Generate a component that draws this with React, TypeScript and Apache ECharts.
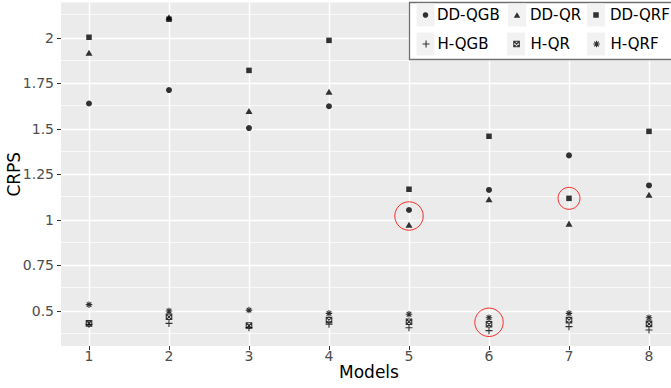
import React, { useEffect, useRef } from "react";
import * as echarts from "echarts";

// ---- data ----
const models = [1, 2, 3, 4, 5, 6, 7, 8];
const ddQGB = [1.64, 1.714, 1.505, 1.625, 1.055, 1.165, 1.355, 1.19];
const ddQR = [1.919, 2.114, 1.599, 1.705, 0.974, 1.114, 0.98, 1.139];
const ddQRF = [2.004, 2.103, 1.822, 1.987, 1.169, 1.46, 1.119, 1.487];
const hQGB = [0.427, 0.432, 0.408, 0.427, 0.408, 0.392, 0.414, 0.396];
const hQR = [0.432, 0.468, 0.42, 0.45, 0.441, 0.427, 0.45, 0.429];
const hQRF = [0.535, 0.5, 0.505, 0.487, 0.482, 0.463, 0.487, 0.463];

const yTicks = [0.5, 0.75, 1, 1.25, 1.5, 1.75, 2];
const yMinorTicks = [0.375, 0.625, 0.875, 1.125, 1.375, 1.625, 1.875, 2.125];
const xTicks = [1, 2, 3, 4, 5, 6, 7, 8];

const highlightX = [5, 6, 7];
const highlightY = [1.022, 0.438, 1.119];

const FONT = "DejaVu Sans";

const SYM = {
  circle: "circle",
  triangle: "path://M5,0L10,8.66L0,8.66Z",
  square: "path://M0,0L10,0L10,10L0,10Z",
  plus: "path://M5,0L5,10M0,5L10,5",
  sqcross: "path://M0,0L10,0L10,10L0,10ZM0,0L10,10M10,0L0,10",
  asterisk: "path://M5,0L5,10M0,5L10,5M1.46,1.46L8.54,8.54M1.46,8.54L8.54,1.46",
};

type SeriesSpec = {
  name: string;
  values: number[];
  symbol: string;
  size: number;
  stroke: boolean;
  legend: { cx: number; cy: number; text: number; w: number };
};

const seriesSpecs: SeriesSpec[] = [
  { name: "DD-QGB", values: ddQGB, symbol: SYM.circle, size: 6, stroke: false, legend: { cx: 425.5, cy: 15, text: 437, w: 5.5 } },
  { name: "DD-QR", values: ddQR, symbol: SYM.triangle, size: 7, stroke: false, legend: { cx: 517, cy: 15, text: 530, w: 6.5 } },
  { name: "DD-QRF", values: ddQRF, symbol: SYM.square, size: 5.5, stroke: false, legend: { cx: 596, cy: 15, text: 610, w: 5.5 } },
  { name: "H-QGB", values: hQGB, symbol: SYM.plus, size: 7, stroke: true, legend: { cx: 425.5, cy: 44, text: 437, w: 7 } },
  { name: "H-QR", values: hQR, symbol: SYM.sqcross, size: 5.5, stroke: true, legend: { cx: 516, cy: 44, text: 530, w: 5.5 } },
  { name: "H-QRF", values: hQRF, symbol: SYM.asterisk, size: 6.5, stroke: true, legend: { cx: 596, cy: 44, text: 610, w: 6.5 } },
];

export default function App() {
  const ref = useRef<HTMLDivElement>(null);

  useEffect(() => {
    if (!ref.current) return;
    const chart = echarts.init(ref.current, undefined, { renderer: "svg" });

    const gridLineData: any[] = [
      ...yMinorTicks.map((v) => ({ yAxis: v, lineStyle: { color: "#FFFFFF", width: 0.7, type: "solid" } })),
      ...yTicks.map((v) => ({ yAxis: v, lineStyle: { color: "#FFFFFF", width: 1.4, type: "solid" } })),
      ...xTicks.map((v) => ({ xAxis: v, lineStyle: { color: "#FFFFFF", width: 1.4, type: "solid" } })),
    ];

    const scatterSeries = seriesSpecs.map((s) => ({
      type: "scatter",
      name: s.name,
      z: 2,
      symbol: s.symbol,
      symbolSize: s.size,
      symbolKeepAspect: true,
      itemStyle: s.stroke
        ? { color: "rgba(0,0,0,0)", borderColor: "#000000", borderWidth: 1.1 }
        : { color: "#000000", borderColor: "#000000", borderWidth: 0 },
      emphasis: { disabled: true },
      data: models.map((m, i) => [m, s.values[i]]),
    }));

    const legends = seriesSpecs.map((s) => {
      const L = s.legend;
      const pad = L.text - L.cx - L.w / 2 - 5;
      return {
        show: true,
        data: [s.name],
        left: L.cx - L.w / 2,
        top: L.cy - 7.5,
        padding: 0,
        itemWidth: L.w,
        itemHeight: L.w,
        selectedMode: false,
        symbolKeepAspect: true,
        itemStyle: { borderWidth: s.stroke ? 1.1 : 0 },
        textStyle: {
          fontSize: 15,
          lineHeight: 15,
          fontWeight: "normal",
          fontFamily: FONT,
          color: "#000000",
          padding: [0, 0, 0, pad],
        },
      };
    });

    const keyBoxes = seriesSpecs.map((s) => ({
      type: "rect",
      z: 3,
      silent: true,
      shape: { x: s.legend.cx - 9, y: s.legend.cy - 11.5, width: 18, height: 23 },
      style: { fill: "#F2F2F2" },
    }));

    chart.setOption({
      animation: false,
      textStyle: { fontFamily: FONT },
      grid: {
        show: true,
        left: 61,
        top: 2.5,
        width: 616,
        height: 343.5,
        backgroundColor: "#EBEBEB",
        borderWidth: 0,
        containLabel: false,
        outerBoundsMode: "none",
      },
      xAxis: {
        type: "value",
        min: 0.65,
        max: 8.35,
        axisLine: { show: false },
        axisTick: { show: true, customValues: xTicks, length: 4, lineStyle: { color: "#333333", width: 1 } },
        axisLabel: { customValues: xTicks, margin: 3, fontSize: 14, color: "#4D4D4D", fontFamily: FONT },
        splitLine: { show: false },
        name: "Models",
        nameLocation: "middle",
        nameGap: 17,
        nameMoveOverlap: false,
        nameTextStyle: { fontSize: 17, color: "#000000", fontFamily: FONT },
      },
      yAxis: {
        type: "value",
        min: 0.3077,
        max: 2.195,
        axisLine: { show: false },
        axisTick: { show: true, customValues: yTicks, length: 4, lineStyle: { color: "#333333", width: 1 } },
        axisLabel: { customValues: yTicks, margin: 7, fontSize: 14, color: "#4D4D4D", fontFamily: FONT },
        splitLine: { show: false },
        name: "CRPS",
        nameLocation: "middle",
        nameGap: 39,
        nameMoveOverlap: false,
        nameTextStyle: { fontSize: 17, color: "#000000", fontFamily: FONT },
      },
      legend: legends,
      graphic: [
        {
          type: "rect",
          z: 3,
          silent: true,
          shape: { x: 409.5, y: 2.5, width: 300, height: 57 },
          style: { fill: "#FFFFFF", stroke: "#707070", lineWidth: 1.3 },
        },
        ...keyBoxes,
      ],
      series: [
        {
          type: "scatter",
          name: "__grid",
          data: [],
          z: 1,
          silent: true,
          markLine: {
            z: 1,
            silent: true,
            symbol: ["none", "none"],
            label: { show: false },
            lineStyle: { type: "solid", color: "#FFFFFF" },
            emphasis: { disabled: true },
            animation: false,
            data: gridLineData,
          },
        },
        ...scatterSeries,
        {
          type: "scatter",
          name: "__highlight",
          z: 3,
          silent: true,
          symbol: "circle",
          symbolSize: (_v: any, p: any) => [28.5, 28.5, 22][p.dataIndex],
          itemStyle: { color: "rgba(0,0,0,0)", borderColor: "#FF0000", borderWidth: 1 },
          data: highlightX.map((x, i) => [x, highlightY[i]]),
        },
      ],
    });

    return () => chart.dispose();
  }, []);

  return (
    <div
      ref={ref}
      style={{ position: "absolute", left: 0, top: 0, width: 671, height: 388 }}
    />
  );
}
